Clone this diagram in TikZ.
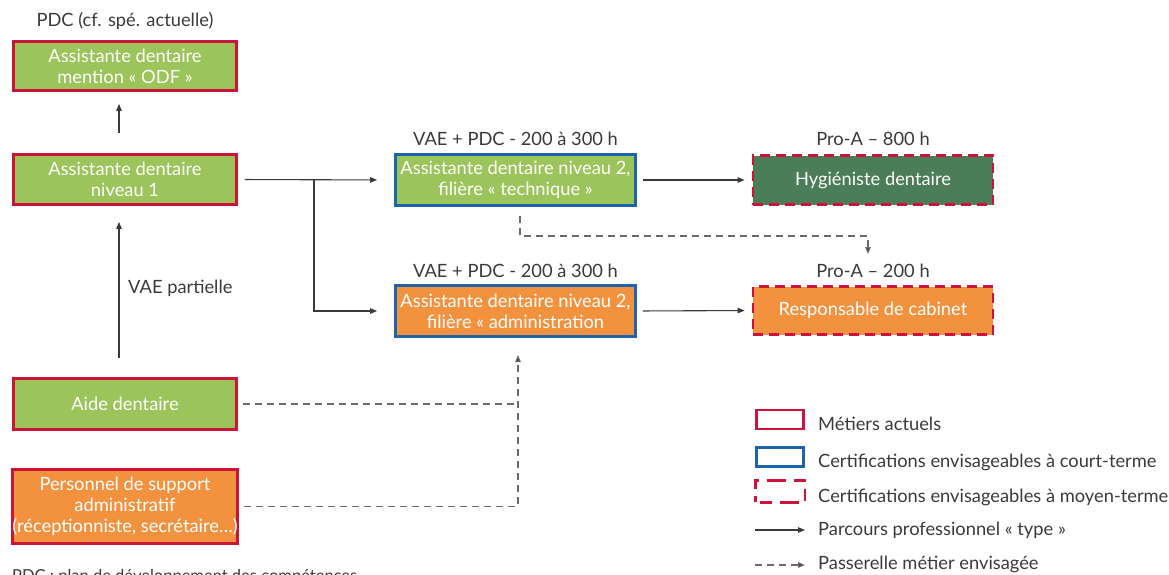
\documentclass[tikz,border=0pt]{standalone}
\usepackage{fontspec}
\setmainfont{Lato}
\usetikzlibrary{arrows.meta,calc,positioning}
\definecolor{adInk}{HTML}{3A3A3A}
\definecolor{adMid}{HTML}{6B6B6B}
\definecolor{adRed}{HTML}{CC1339}
\definecolor{adBlue}{HTML}{1D63AD}
\definecolor{adGreen}{HTML}{9BC45B}
\definecolor{adDark}{HTML}{4A7D58}
\definecolor{adOrange}{HTML}{F2923F}
\tikzset{
 carte/.style={font=\fontsize{18.3}{21}\selectfont,text=adInk,line join=miter},
 box/.style={rectangle,align=center,text=white,inner sep=0pt,line width=2.8pt,
   minimum width=223,minimum height=49},
 jobNow/.style={box,draw=adRed},
 certShort/.style={box,draw=adBlue,minimum width=240},
 certMid/.style={box,draw=adRed,minimum width=240,dash pattern=on 10pt off 6pt},
 tag/.style={anchor=base,text=adInk,inner sep=0pt},
 route/.style={draw=adInk,line width=1.1pt,-{Triangle[length=7pt,width=5.5pt]}},
 bridge/.style={draw=adMid,line width=1.2pt,dash pattern=on 7pt off 5pt},
 bridgeTo/.style={bridge,-{Triangle[length=7pt,width=5.5pt,fill=adInk]}},
 keyBox/.style={rectangle,inner sep=0pt,line width=2.6pt,minimum width=47,minimum height=19},
 keyText/.style={anchor=base west,text=adInk,inner sep=0pt}
}
\begin{document}
\begin{tikzpicture}[carte,x=1pt,y=-1pt]
 \useasboundingbox (0,0) rectangle (1169,575);
 % left column: current jobs
 \node[tag] (odfLab) at (125,27) {PDC (cf. spé. actuelle)};
 \node[jobNow,fill=adGreen] (odf) at (125,66) {Assistante dentaire\\mention «~ODF~»};
 \node[jobNow,fill=adGreen,minimum height=50] (niv1) at (125,179.5) {Assistante dentaire\\niveau 1};
 \node[jobNow,fill=adGreen,minimum height=51] (aide) at (125,404) {Aide dentaire};
 \node[jobNow,fill=adOrange,minimum height=74] (pers) at (125,506.5)
   {Personnel de support\\administratif\\(réceptionniste, secrétaire…)};
 \node[tag,anchor=base west] (vaeLab) at (128,293) {VAE partielle};
 % middle column: short term
 \node[tag] (techLab) at (515.5,146) {VAE + PDC - 200 à 300 h};
 \node[certShort,fill=adGreen,minimum height=51] (tech) at (515.5,180)
   {Assistante dentaire niveau 2,\\filière «~technique~»};
 \node[tag] (admLab) at (515.5,277) {VAE + PDC - 200 à 300 h};
 \node[certShort,fill=adOrange,minimum height=51] (adm) at (515.5,311)
   {Assistante dentaire niveau 2,\\filière «~administration};
 % right column: mid term
 \node[tag] (hygLab) at (873,146) {Pro-A – 800 h};
 \node[certMid,fill=adDark] (hyg) at (873,180) {Hygiéniste dentaire};
 \node[tag] (respLab) at (873,277) {Pro-A – 200 h};
 \node[certMid,fill=adOrange,minimum height=48] (resp) at (873,310.5) {Responsable de cabinet};
 % routes
 \draw[route,shorten <=20pt,shorten >=12pt] ([xshift=-6pt]niv1.north) -- ([xshift=-6pt]odf.south);
 \draw[route,shorten <=19pt,shorten >=16pt] ([xshift=-6pt]aide.north) -- ([xshift=-6pt]niv1.south);
 \coordinate (split) at (314,179.5);
 \draw[route,shorten <=7pt,shorten >=17pt] (niv1.east) -- (tech.west);
 \draw[route,shorten >=17pt] (split) |- (adm.west);
 \draw[route,shorten <=6pt,shorten >=7pt] (tech.east) -- (hyg.east -| hyg.west);
 \draw[route,shorten <=6pt,shorten >=7pt] (adm.east) -- (resp.east -| resp.west);
 % bridges
 \coordinate (techDrop) at (520,216);
 \coordinate (respIn) at (868,254);
 \draw[bridgeTo] (techDrop) -- ++(0,20) -| (respIn);
 \coordinate (admIn) at (518,355);
 \draw[bridge,shorten <=5pt] (aide.east) -- (aide.east -| admIn);
 \draw[bridgeTo,shorten <=5pt] (pers.east) -| (admIn);
 % legend
 \node[keyBox,draw=adRed] (keyNow) at (780,419.5) {};
 \node[keyText] (keyNowTxt) at (818,430) {Métiers actuels};
 \node[keyBox,draw=adBlue] (keyShort) at (780,457) {};
 \node[keyText] (keyShortTxt) at (818,467) {Certifications envisageables à court-terme};
 \node[keyBox] (keyMid) at (780,491.5) {};
 \draw[draw=adRed,line width=2.6pt,
   dash pattern=on 6pt off 7pt on 12pt off 8pt on 19pt off 8pt on 12pt off 7pt on 12pt off 8pt on 19pt off 8pt on 6pt off 0pt]
   (keyMid.south west) -- (keyMid.north west) -- (keyMid.north east) -- (keyMid.south east) -- cycle;
 \node[keyText] (keyMidTxt) at (818,502) {Certifications envisageables à moyen-terme};
 \coordinate (keyRouteA) at (755,530); \coordinate (keyRouteB) at (805,530);
 \draw[route] (keyRouteA) -- (keyRouteB);
 \node[keyText] (keyRouteTxt) at (818,535) {Parcours professionnel «~type~»};
 \coordinate (keyBridgeA) at (755,565); \coordinate (keyBridgeB) at (805,565);
 \draw[bridgeTo] (keyBridgeA) -- (keyBridgeB);
 \node[keyText] (keyBridgeTxt) at (818,569) {Passerelle métier envisagée};
 \node[keyText,font=\fontsize{16.5}{19}\selectfont] (note) at (12,581) {PDC : plan de développement des compétences};
\end{tikzpicture}
\end{document}
